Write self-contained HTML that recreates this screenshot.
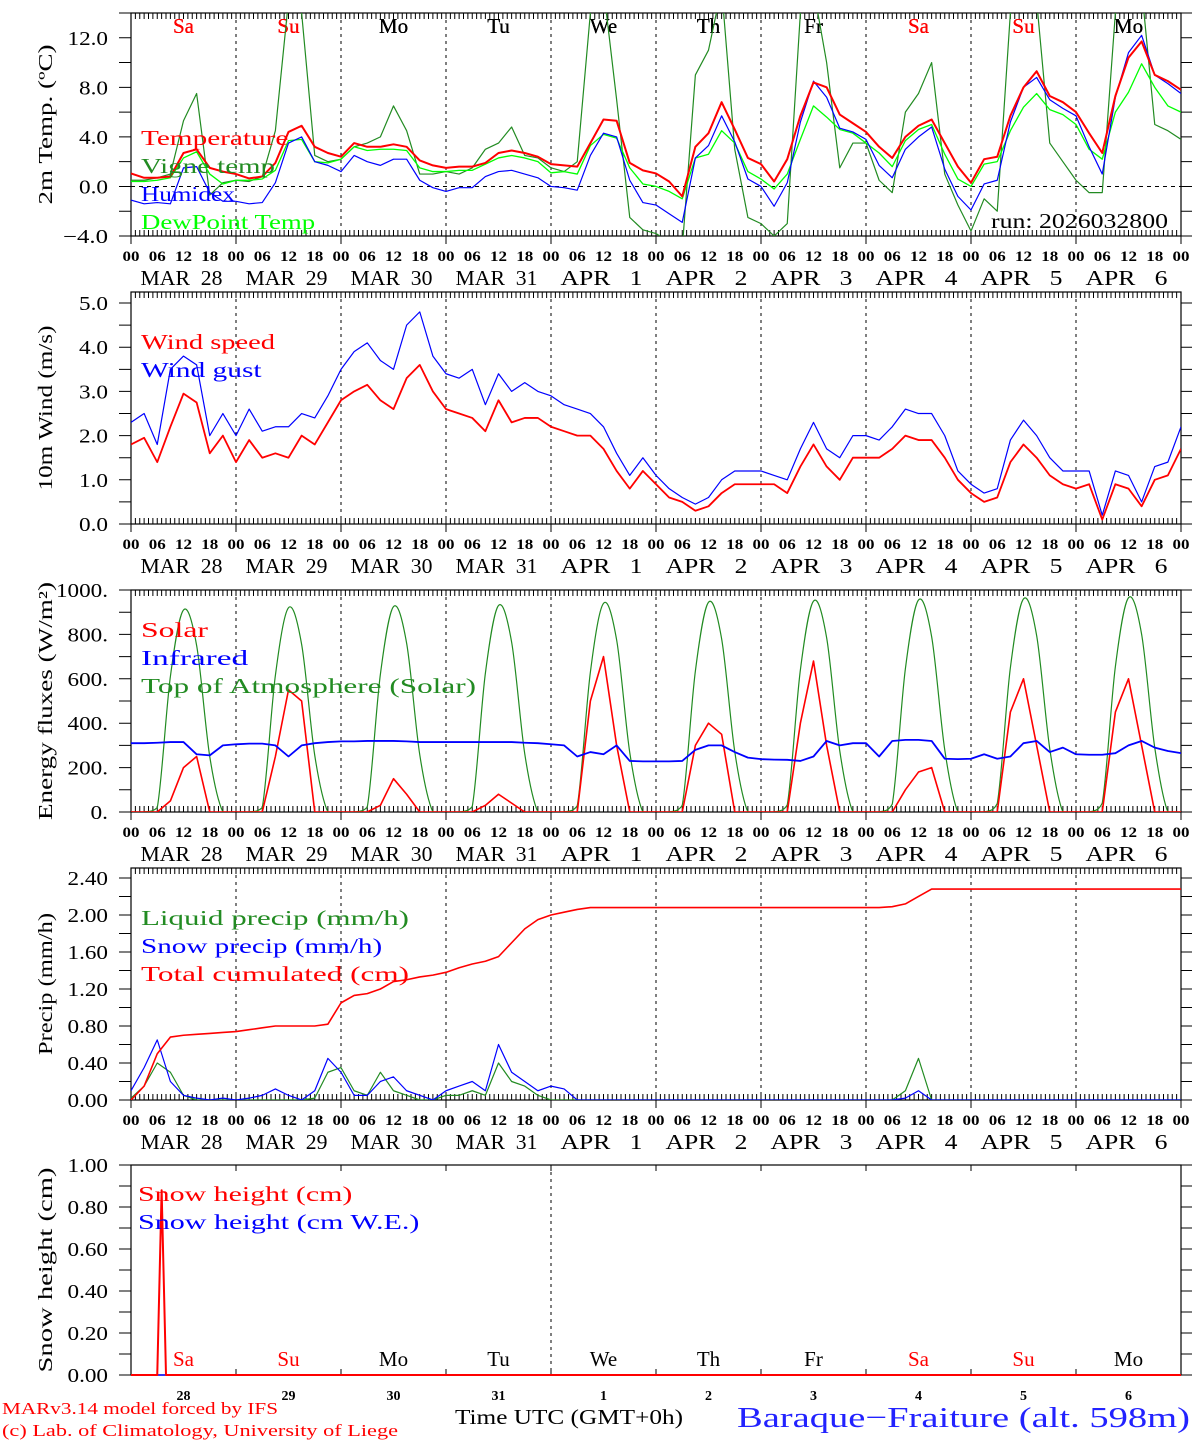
<!DOCTYPE html>
<html><head><meta charset="utf-8"><title>MAR meteogram</title>
<style>
html,body{margin:0;padding:0;background:#fff;}
svg{display:block;font-family:"Liberation Serif",serif;}
.pre{white-space:pre;}
</style></head>
<body>
<svg id="chart" width="1194" height="1440" viewBox="0 0 1194 1440" xmlns="http://www.w3.org/2000/svg">
<defs>
<clipPath id="c1"><rect x="131" y="13" width="1050" height="223"/></clipPath>
<clipPath id="c2"><rect x="131" y="292" width="1050" height="232"/></clipPath>
<clipPath id="c3"><rect x="131" y="590" width="1050" height="222"/></clipPath>
<clipPath id="c4"><rect x="131" y="868" width="1050" height="232"/></clipPath>
<clipPath id="c5"><rect x="131" y="1165" width="1050" height="211"/></clipPath>
</defs>
</svg>
<script>
// ---- data (3-hourly, 00 UTC Mar 28 to 00 UTC Apr 7) ----
const dayNames = ["Sa","Su","Mo","Tu","We","Th","Fr","Sa","Su","Mo"];
const dayNums = ["28","29","30","31","1","2","3","4","5","6"];
const dateLabels = ["MAR  28","MAR  29","MAR  30","MAR  31","APR   1","APR   2","APR   3","APR   4","APR   5","APR   6"];
const hourLabels = ["00","06","12","18"];
const weekend = [true,true,false,false,false,false,false,true,true,false];

const temperature = [1.05,0.7,0.7,0.8,2.7,3.0,1.5,1.2, 1.0,0.65,0.8,1.9,4.4,4.9,3.2,2.7, 2.4,3.5,3.2,3.2,3.4,3.2,2.1,1.7, 1.5,1.6,1.6,1.9,2.7,2.9,2.7,2.4, 1.8,1.7,1.6,3.5,5.4,5.3,1.9,1.3, 1.05,0.4,-0.8,3.2,4.3,6.8,4.6,2.3, 1.8,0.4,2.2,5.7,8.4,8.0,5.8,5.1, 4.4,3.2,2.3,4.0,4.9,5.4,3.5,1.6, 0.3,2.2,2.4,5.7,8.0,9.3,7.3,6.8, 6.0,4.3,2.7,7.3,10.4,11.7,9.0,8.5,7.8];
const vigneTemp = [0.5,0.5,0.7,1.0,5.3,7.5,-0.7,0.3, 0.5,0.4,0.8,4.5,15,14,2.5,2.0, 2.2,3.2,3.5,4.0,6.5,4.5,1.0,1.0, 1.2,1.0,1.5,3.0,3.5,4.8,2.5,2.3, 1.5,1.2,2.0,14,16,7,-2.5,-3.5, -3.8,-4.5,-5,9,11,16,3,-2.5, -3,-4,-3,14,16,10,1.5,3.5, 3.5,0.5,-0.5,6,7.5,10,1,-1.5, -3.6,-1,-2,14,17,15,3.5,2, 0.5,-0.5,-0.5,14,16,16,5,4.5,3.8];
const humidex = [-1.1,-1.4,-1.3,-1.4,1.5,1.6,-0.5,-1.2, -1.2,-1.4,-1.3,0.3,3.5,4.0,2.0,1.7, 1.2,2.5,2.0,1.7,2.2,2.2,0.5,-0.1, -0.4,-0.1,-0.1,0.8,1.2,1.3,1.0,0.7, 0.0,-0.1,-0.3,2.5,4.3,4.0,0.5,-1.3, -1.5,-2.2,-2.9,2.3,3.3,5.7,3.6,0.6, 0.0,-1.6,0.3,5.2,8.5,7.2,4.7,4.4, 3.8,1.7,0.7,3.0,4.0,4.8,1.4,-0.8, -1.9,0.2,0.5,5.2,8.0,8.8,7.0,6.3, 5.7,3.2,1.0,7.2,10.8,12.2,9.0,8.3,7.5];
const dewPoint = [0.4,0.4,0.5,0.7,2.3,2.8,1.0,0.2, 0.5,0.5,0.6,1.3,3.7,3.8,2.0,1.9, 2.2,3.2,2.9,3.0,3.0,2.9,1.5,1.2, 1.2,1.3,1.3,1.8,2.3,2.5,2.3,2.0, 1.1,1.2,1.0,3.3,4.2,3.9,1.5,0.2, 0.0,-0.4,-1.0,2.3,2.6,4.5,3.5,1.2, 0.6,-0.2,1.0,3.8,6.5,5.6,4.6,4.3, 3.5,2.7,1.6,3.7,4.6,5.0,2.6,0.6, 0.0,1.8,2.0,4.5,6.4,7.5,6.2,5.8, 5.0,3.0,2.2,6.0,7.6,9.9,8.0,6.5,6.0];

const windSpeed = [1.8,1.95,1.4,2.2,2.95,2.75,1.6,2.0, 1.4,1.9,1.5,1.6,1.5,2.0,1.8,2.3, 2.8,3.0,3.15,2.8,2.6,3.3,3.6,3.0, 2.6,2.5,2.4,2.1,2.8,2.3,2.4,2.4, 2.2,2.1,2.0,2.0,1.7,1.2,0.8,1.2, 0.9,0.6,0.5,0.3,0.4,0.7,0.9,0.9, 0.9,0.9,0.7,1.3,1.8,1.3,1.0,1.5, 1.5,1.5,1.7,2.0,1.9,1.9,1.5,1.0, 0.7,0.5,0.6,1.4,1.8,1.5,1.1,0.9, 0.8,0.9,0.1,0.9,0.8,0.4,1.0,1.1,1.7];
const windGust = [2.3,2.5,1.8,3.5,3.8,3.6,2.0,2.5, 2.0,2.6,2.1,2.2,2.2,2.5,2.4,2.9, 3.5,3.9,4.1,3.7,3.5,4.5,4.8,3.8, 3.4,3.3,3.5,2.7,3.4,3.0,3.2,3.0, 2.9,2.7,2.6,2.5,2.2,1.6,1.1,1.5, 1.1,0.8,0.6,0.45,0.6,1.0,1.2,1.2, 1.2,1.1,1.0,1.7,2.3,1.7,1.5,2.0, 2.0,1.9,2.2,2.6,2.5,2.5,2.0,1.2, 0.9,0.7,0.8,1.9,2.35,2.0,1.5,1.2, 1.2,1.2,0.2,1.2,1.1,0.5,1.3,1.4,2.2];

const solar = [0,0,0,50,200,250,0,0, 0,0,0,250,550,500,0,0, 0,0,0,30,150,80,0,0, 0,0,0,30,80,40,0,0, 0,0,0,500,700,300,0,0, 0,0,0,300,400,350,0,0, 0,0,0,400,680,300,0,0, 0,0,0,100,180,200,0,0, 0,0,0,450,600,300,0,0, 0,0,0,450,600,300,0,0,0];
const infrared = [310,310,312,315,315,260,255,300, 305,308,308,300,250,300,310,315, 318,318,320,320,320,318,315,315, 315,315,315,315,315,315,312,310, 305,300,250,270,260,300,230,228, 228,228,230,280,300,300,270,245, 238,236,235,230,250,320,300,310, 310,250,320,325,325,320,240,238, 240,260,240,250,310,320,270,290, 260,258,258,265,300,320,290,275,265];
const toaSolar = [0,0,20,610,910,750,250,0, 0,0,20,615,920,755,255,0, 0,0,22,620,925,760,258,0, 0,0,25,625,930,765,262,0, 0,0,28,630,940,775,268,0, 0,0,30,635,945,780,272,0, 0,0,32,640,950,785,276,0, 0,0,35,645,955,790,280,0, 0,0,38,650,960,795,285,0, 0,0,40,655,965,800,290,0,0];

const liquidPrecip = [0.02,0.15,0.4,0.3,0.05,0,0,0, 0,0,0,0,0,0,0.02,0.3, 0.35,0.1,0.05,0.3,0.1,0.05,0,0, 0.05,0.05,0.1,0.05,0.4,0.2,0.15,0.05, 0,0,0,0,0,0,0,0, 0,0,0,0,0,0,0,0, 0,0,0,0,0,0,0,0, 0,0,0,0.1,0.45,0,0,0, 0,0,0,0,0,0,0,0, 0,0,0,0,0,0,0,0,0];
const snowPrecip = [0.1,0.35,0.65,0.2,0.05,0.02,0,0.02, 0,0.02,0.05,0.12,0.05,0,0.1,0.45, 0.3,0.05,0.05,0.2,0.25,0.1,0.05,0, 0.1,0.15,0.2,0.1,0.6,0.3,0.2,0.1, 0.15,0.12,0,0,0,0,0,0, 0,0,0,0,0,0,0,0, 0,0,0,0,0,0,0,0, 0,0,0,0.02,0.1,0,0,0, 0,0,0,0,0,0,0,0, 0,0,0,0,0,0,0,0,0];
const totalCum = [0,0.15,0.5,0.68,0.7,0.71,0.72,0.73, 0.74,0.76,0.78,0.8,0.8,0.8,0.8,0.82, 1.05,1.13,1.15,1.2,1.28,1.3,1.33,1.35, 1.38,1.43,1.47,1.5,1.55,1.7,1.85,1.95, 2.0,2.03,2.06,2.08,2.08,2.08,2.08,2.08, 2.08,2.08,2.08,2.08,2.08,2.08,2.08,2.08, 2.08,2.08,2.08,2.08,2.08,2.08,2.08,2.08, 2.08,2.08,2.09,2.12,2.2,2.28,2.28,2.28, 2.28,2.28,2.28,2.28,2.28,2.28,2.28,2.28, 2.28,2.28,2.28,2.28,2.28,2.28,2.28,2.28,2.28];

const snowHours = [0,6,7,8,240];
const snowHeight = [0,0,0.88,0,0];
const snowHeightWE = [0,0,0,0,0];

const tempTicks = ["\u22124.0","0.0","4.0","8.0","12.0"];
const windTicks = ["0.0","1.0","2.0","3.0","4.0","5.0"];
const fluxTicks = ["0.","200.","400.","600.","800.","1000."];
const precipTicks = ["0.00","0.40","0.80","1.20","1.60","2.00","2.40"];
const snowTicks = ["0.00","0.20","0.40","0.60","0.80","1.00"];

// ---- rendering ----
const NS = "http://www.w3.org/2000/svg";
const svg = document.getElementById("chart");
const X0 = 131, X1 = 1181;
const xOf = h => X0 + h * (X1 - X0) / 240;
function mk(tag, attrs, parent) {
  const e = document.createElementNS(NS, tag);
  for (const k in attrs) e.setAttribute(k, attrs[k]);
  (parent || svg).appendChild(e);
  return e;
}
function txt(s, x, y, size, fill, anchor, parent, len) {
  const t = mk("text", {x: x, y: y, "font-size": size, fill: fill || "#000", "text-anchor": anchor || "start", "class": "pre"}, parent);
  if (len) { t.setAttribute("textLength", len); t.setAttribute("lengthAdjust", "spacingAndGlyphs"); }
  t.textContent = s;
  return t;
}

const panels = [
  {id: "temp", top: 13, bot: 236, min: -4, max: 14, ticks: tempTicks, tickVals: [-4,0,4,8,12], minor: 2, title: "2m Temp. (\u00BAC)", tlen: 160, clip: "c1"},
  {id: "wind", top: 292, bot: 524, min: 0, max: 5.25, ticks: windTicks, tickVals: [0,1,2,3,4,5], minor: 0.5, title: "10m Wind (m/s)", tlen: 165, clip: "c2"},
  {id: "flux", top: 590, bot: 812, min: 0, max: 1000, ticks: fluxTicks, tickVals: [0,200,400,600,800,1000], minor: 100, title: "Energy fluxes (W/m\u00B2)", tlen: 238, clip: "c3"},
  {id: "precip", top: 868, bot: 1100, min: 0, max: 2.508, ticks: precipTicks, tickVals: [0,0.4,0.8,1.2,1.6,2.0,2.4], minor: 0.2, title: "Precip (mm/h)", tlen: 142, clip: "c4"},
  {id: "snow", top: 1165, bot: 1375, min: 0, max: 1, ticks: snowTicks, tickVals: [0,0.2,0.4,0.6,0.8,1.0], minor: 0.1, title: "Snow height (cm)", tlen: 205, clip: "c5"}
];
panels.forEach(p => { p.y = v => p.bot - (v - p.min) * (p.bot - p.top) / (p.max - p.min); });

function tickLen(s) {
  let w = 0;
  for (const c of s) w += (c === "." ? 6 : (c === "\u2212" ? 16 : 11.5));
  return w;
}

panels.forEach((p, pi) => {
  const g = mk("g", {});
  
  
  const last = pi === 4;
  const fr = mk("rect", {x: X0, y: p.top, width: X1 - X0, height: p.bot - p.top, fill: "none", stroke: "#000", "stroke-width": 1.2}, g);
  
  
  for (let d = 1; d < 10; d++) {
    if (last && d !== 4) continue;
    const l = mk("line", {x1: xOf(d*24), x2: xOf(d*24), y1: p.top, y2: p.bot, stroke: "#000", "stroke-width": 1, "stroke-dasharray": "3,4"}, g);
    
    
  }
  let td = "";
  if (!last) {
    for (let h = 0; h <= 240; h++) {
      const x = xOf(h).toFixed(2);
      td += `M${x} ${p.top}v6M${x} ${p.bot}v-6`;
    }
    for (let d = 0; d <= 10; d++) td += `M${xOf(d*24)} ${p.bot}v8`;
  } else {
    for (let d = 1; d < 10; d++) td += `M${xOf(d*24)} ${p.top}v6M${xOf(d*24)} ${p.bot}v-6`;
  }
  const tk = mk("path", {d: td, stroke: "#000", "stroke-width": 1, fill: "none"}, g);
  
  
  let yd = "";
  for (let v = p.min; v <= p.max + 1e-9; v += p.minor) {
    const y = p.y(v).toFixed(2);
    yd += `M${X0} ${y}h-12M${X1} ${y}h11`;
  }
  const yt = mk("path", {d: yd, stroke: "#000", "stroke-width": 1, fill: "none"}, g);
  
  
  p.ticks.forEach((s, i) => {
    const t = txt(s, 108, p.y(p.tickVals[i]) + 7, 20, "#000", "end", g, tickLen(s));
    
    
  });
  const cy = (p.top + p.bot) / 2;
  const tt = txt(p.title, 0, 0, 20, "#000", "middle", g, p.tlen);
  tt.setAttribute("transform", `translate(52 ${cy}) rotate(-90)`);
  
  
  if (!last) {
    for (let d = 0; d < 10; d++) {
      hourLabels.forEach((s, i) => {
        const t = txt(s, xOf(d*24 + i*6), p.bot + 25, 15, "#000", "middle", g, 17);
        t.setAttribute('font-weight', 'bold');
        
        
      });
      const dl = txt(dateLabels[d], xOf(d*24 + 12) - 2, p.bot + 49, 21, "#000", "middle", g, 82);
      
      
    }
    const t0 = txt("00", xOf(240), p.bot + 25, 15, "#000", "middle", g, 17);
    t0.setAttribute('font-weight', 'bold');
    
    
  } else {
    for (let d = 0; d < 10; d++) {
      const dn = txt(dayNums[d], xOf(d*24 + 12), p.bot + 25, 14, "#000", "middle", g);
      dn.setAttribute('font-weight', 'bold');
      
      
    }
  }
  for (let d = 0; d < 10; d++) {
    const y = last ? 1366 : 33;
    const t = txt(dayNames[d], xOf(d*24 + 12), y, 21, weekend[d] ? "#ff0000" : "#000", "middle", g);
    
    
  }
});

function pathFor(p, vals, hours, smooth) {
  const pts = vals.map((v, i) => [xOf(hours ? hours[i] : i*3), p.y(v)]);
  if (!smooth) return "M" + pts.map(q => q[0].toFixed(2) + " " + q[1].toFixed(2)).join("L");
  let d = `M${pts[0][0]} ${pts[0][1]}`;
  for (let i = 0; i < pts.length - 1; i++) {
    const p0 = pts[Math.max(0, i-1)], p1 = pts[i], p2 = pts[i+1], p3 = pts[Math.min(pts.length-1, i+2)];
    let c1y = p1[1] + (p2[1] - p0[1]) / 6, c2y = p2[1] - (p3[1] - p1[1]) / 6;
    const base = p.bot;
    c1y = Math.min(c1y, base); c2y = Math.min(c2y, base);
    d += `C${(p1[0] + (p2[0]-p0[0])/6).toFixed(2)} ${c1y.toFixed(2)} ${(p2[0] - (p3[0]-p1[0])/6).toFixed(2)} ${c2y.toFixed(2)} ${p2[0].toFixed(2)} ${p2[1].toFixed(2)}`;
  }
  return d;
}
function series(p, vals, color, name, width, hours, smooth) {
  const l = mk("path", {d: pathFor(p, vals, hours, smooth), fill: "none", stroke: color, "stroke-width": width || 1.2, "clip-path": `url(#${p.clip})`, "stroke-linejoin": "round"});
  
  
}
function legend(items, x, y0) {
  items.forEach((it, i) => {
    const t = txt(it[0], x, y0 + i*28, 21, it[1], "start", null, it[0].length * 13.4);
    
    
  });
}
const [P1, P2, P3, P4, P5] = panels;
const zl = mk("line", {x1: X0, x2: X1, y1: P1.y(0), y2: P1.y(0), stroke: "#000", "stroke-dasharray": "4,4", "stroke-width": 1});



series(P1, vigneTemp, "#228b22", "vigne-temp-line", 1.2);
series(P1, dewPoint, "#00ff00", "dewpoint-line", 1.3);
series(P1, humidex, "#0000ff", "humidex-line", 1.2);
series(P1, temperature, "#ff0000", "temperature-line", 2);
legend([["Temperature","#ff0000"],["Vigne temp","#228b22"],["Humidex","#0000ff"],["DewPoint Temp","#00ff00"]], 141, 145);
const run = txt("run: 2026032800", 1168, 228, 21, "#000", "end", null, 177);



series(P2, windGust, "#0000ff", "wind-gust-line", 1.2);
series(P2, windSpeed, "#ff0000", "wind-speed-line", 1.8);
legend([["Wind speed","#ff0000"],["Wind gust","#0000ff"]], 141, 349);

series(P3, toaSolar, "#228b22", "toa-solar-line", 1.2, null, true);
series(P3, solar, "#ff0000", "solar-line", 1.6);
series(P3, infrared, "#0000ff", "infrared-line", 1.8);
legend([["Solar","#ff0000"],["Infrared","#0000ff"],["Top of Atmosphere (Solar)","#228b22"]], 141, 637);

series(P4, liquidPrecip, "#228b22", "liquid-precip-line", 1.2);
series(P4, snowPrecip, "#0000ff", "snow-precip-line", 1.2);
series(P4, totalCum, "#ff0000", "total-cumulated-line", 1.6);
legend([["Liquid precip (mm/h)","#228b22"],["Snow precip (mm/h)","#0000ff"],["Total cumulated (cm)","#ff0000"]], 141, 925);

series(P5, snowHeightWE, "#0000ff", "snow-height-we-line", 1.5, snowHours);
series(P5, snowHeight, "#ff0000", "snow-height-line", 2, snowHours);
legend([["Snow height (cm)","#ff0000"],["Snow height (cm W.E.)","#0000ff"]], 138, 1201);

const f1 = txt("MARv3.14 model forced by IFS", 2, 1414, 17, "#ff0000", "start", null, 276);


const f2 = txt("(c) Lab. of Climatology, University of Liege", 2, 1436, 17, "#ff0000", "start", null, 396);


const xt = txt("Time UTC (GMT+0h)", 455, 1424, 21, "#000", "start", null, 228);


const st = txt("Baraque\u2212Fraiture (alt. 598m)", 737, 1427, 29, "#2222ff", "start", null, 453);


</script>
</body></html>
